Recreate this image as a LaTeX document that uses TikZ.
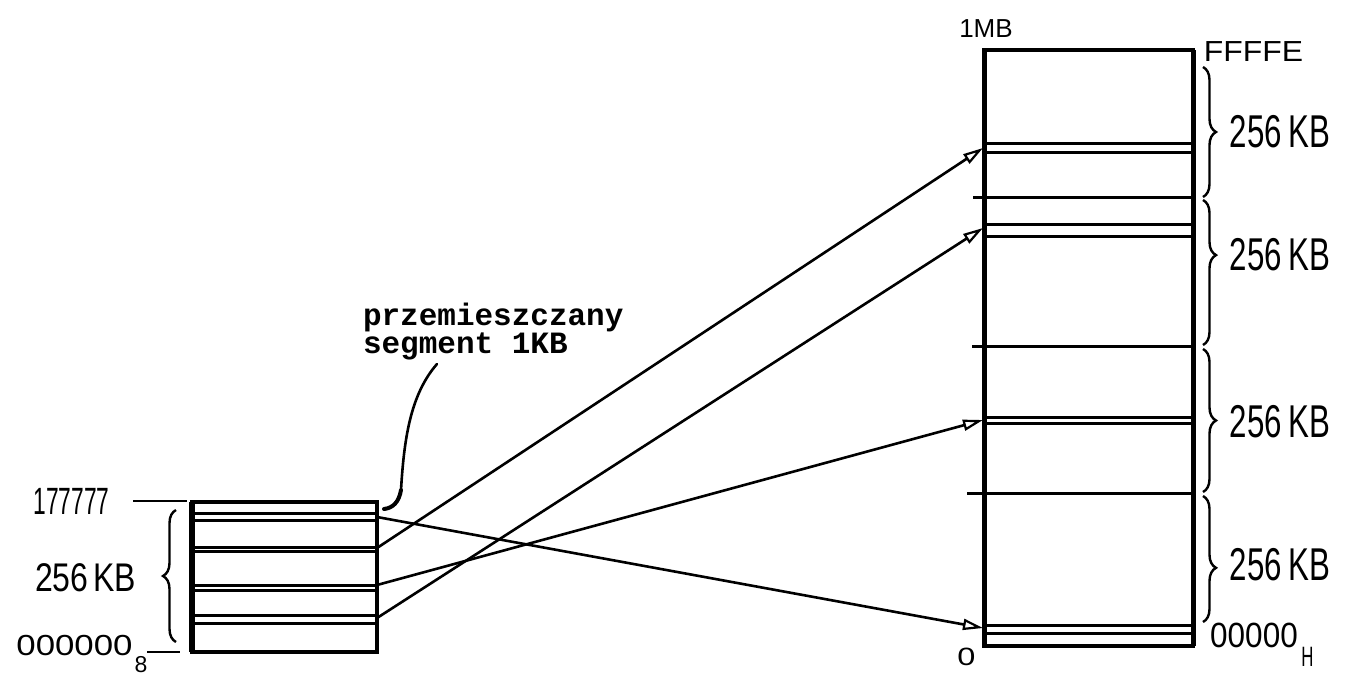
\documentclass[tikz,border=0pt]{standalone}
\usepackage{fontspec}
\usepackage{graphicx}
\setmainfont{Liberation Sans}
\newfontfamily\mono{Liberation Mono}
\usetikzlibrary{arrows.meta,decorations.pathreplacing}

\begin{document}
\begin{tikzpicture}[x=1pt,y=-1pt,
  box/.style={draw, line width=4pt, inner sep=0pt, outer sep=0pt},
  seg/.style={line width=3pt},
  tick/.style={line width=2.5pt},
  conn/.style={line width=2.6pt, -{Triangle[open,length=20pt,width=11pt,line width=2.2pt]}},
  brc/.style={decorate, decoration={brace,amplitude=13pt,aspect=#1}, line width=2.4pt},
  brc/.default=0.5,
  lbl/.style={inner sep=0pt, outer sep=0pt},
  lead/.style={line width=2.6pt}
]
\useasboundingbox (0,0) rectangle (1353,678);

% ---- left box (64 KB address space) ----
\node[box, minimum width=185pt, minimum height=150pt] (lbox) at (284.5,577) {};
\draw[line width=6pt] (lbox.north west) -- (lbox.south west);
\foreach \yy in {513,520,547,551,585,590,615,623}
  \draw[seg] (192,\yy) -- (377,\yy);

% ---- right box (1 MB) ----
\node[box, minimum width=209pt, minimum height=596pt] (rbox) at (1088.5,348) {};
\draw[line width=5pt] (rbox.north west) -- (rbox.south west);
\draw[line width=5pt] (rbox.north east) -- (rbox.south east);
\foreach \yy in {143,152,224,236,417,423,625,633}
  \draw[seg] (984,\yy) -- (1193,\yy);
\foreach \yy/\xs in {197/973,346/972,493/967}
  \draw[seg] (\xs,\yy) -- (1193,\yy);

% ---- left labels ----
\node[lbl, font=\fontsize{38}{38}\selectfont] (a177) at (71.5,501.5) {\scalebox{0.6}[1]{177777}};
\node[lbl, font=\fontsize{29}{29}\selectfont] (a000) at (74.5,646) {\scalebox{1.2}[1]{000000}};
\node[lbl, font=\fontsize{23}{23}\selectfont] (a8) at (141,665) {8};
\node[lbl, font=\fontsize{40}{40}\selectfont] (lkb) at (85.5,577.5) {\scalebox{0.8}[1]{256\hspace{6pt}KB}};
\coordinate (t1a) at (133,501);
\coordinate (t1b) at (187,501);
\coordinate (t2a) at (147,652);
\coordinate (t2b) at (180,652);
\draw[tick] (t1a) -- (t1b);
\draw[tick] (t2a) -- (t2b);
\draw[brc] (176,642) -- (176,510);

% ---- right labels ----
\node[lbl, font=\fontsize{26}{26}\selectfont] (mb) at (986,28.5) {1MB};
\node[lbl, font=\fontsize{29}{29}\selectfont] (fff) at (1253.5,52) {\scalebox{1.1}[1]{FFFFE}};
\node[lbl, font=\fontsize{35}{35}\selectfont] (h0) at (1254,635.5) {\scalebox{0.9}[1]{00000}};
\node[lbl, font=\fontsize{28}{28}\selectfont] (hH) at (1307.5,657) {\scalebox{0.6}[1]{H}};
\node[lbl, font=\fontsize{25}{25}\selectfont] (zero) at (966.5,656.5) {\scalebox{1.3}[1]{0}};
\foreach \nm/\yy in {k1/132,k2/255,k3/422,k4/565}
  \node[lbl, font=\fontsize{46}{46}\selectfont] (\nm) at (1280,\yy) {\scalebox{0.68}[1]{256\hspace{10pt}KB}};
\draw[brc] (1203,67) -- (1203,197);
\draw[brc=0.38] (1203,200) -- (1203,345);
\draw[brc] (1203,349) -- (1203,492);
\draw[brc=0.57] (1203,496) -- (1203,622);

% ---- caption ----
\node[lbl, anchor=base west, font=\mono\bfseries\fontsize{31}{31}\selectfont] (cap1) at (363,325) {przemieszczany};
\node[lbl, anchor=base west, font=\mono\bfseries\fontsize{31}{31}\selectfont] (cap2) at (363,353) {segment 1KB};
\coordinate (ls) at (437,364);
\coordinate (lm) at (401,490);
\coordinate (le) at (384,509);
\draw[lead, line cap=round] (ls) .. controls (410,395) and (404,440) .. (lm);
\draw[line width=4pt, line cap=round] (lm) .. controls (399,502) and (393,508) .. (le);

% ---- connectors ----
\coordinate (s1) at (377,517);
\coordinate (s2) at (377,548);
\coordinate (s3) at (377,585);
\coordinate (s4) at (377,618);
\coordinate (e1) at (983,628);
\coordinate (e2) at (983,148);
\coordinate (e3) at (983,420);
\coordinate (e4) at (983,228);
\draw[conn] (s1) -- (e1);
\draw[conn] (s2) -- (e2);
\draw[conn] (s3) -- (e3);
\draw[conn] (s4) -- (e4);
\end{tikzpicture}
\end{document}
